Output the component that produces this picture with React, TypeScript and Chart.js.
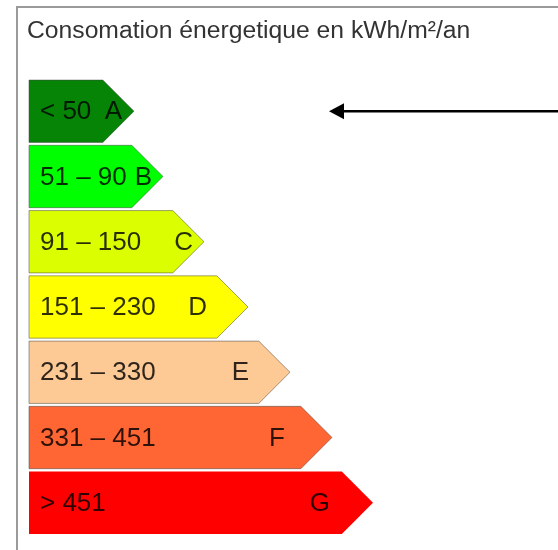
import React, { useEffect, useRef } from "react";
import { Chart, registerables } from "chart.js";

Chart.register(...registerables);

const classes = ["A", "B", "C", "D", "E", "F", "G"];
const ranges = ["< 50", "51 – 90", "91 – 150", "151 – 230", "231 – 330", "331 – 451", "> 451"];
const barLengths = [105, 134, 175, 219, 261, 303, 344];
const barColors = ["#068406", "#00ff00", "#dbff00", "#ffff00", "#fdc995", "#ff6633", "#ff0000"];
const currentClass = "A";
const title = "Consomation énergetique en kWh/m²/an";

const FONT = '"Liberation Sans", Arial, sans-serif';

const energyPlugin = {
  id: "energyLabel",
  beforeDraw(chart: any) {
    const ctx = chart.ctx;
    ctx.save();
    ctx.fillStyle = "#ffffff";
    ctx.fillRect(0, 0, chart.width, chart.height);
    ctx.strokeStyle = "#9a9a9a";
    ctx.lineWidth = 2;
    ctx.beginPath();
    ctx.moveTo(17, chart.height + 2);
    ctx.lineTo(17, 7);
    ctx.lineTo(chart.width + 2, 7);
    ctx.stroke();
    ctx.fillStyle = "#333333";
    ctx.font = `24.7px ${FONT}`;
    ctx.textBaseline = "alphabetic";
    ctx.textAlign = "left";
    ctx.fillText(title, 27, 37.5);
    ctx.restore();
  },
  afterDatasetsDraw(chart: any, _args: any, opts: any) {
    const ctx = chart.ctx;
    const meta = chart.getDatasetMeta(0);
    const letterInset: number[] = opts.letterInset;
    ctx.save();
    meta.data.forEach((el: any, i: number) => {
      const p = el.getProps(["x", "y", "base", "height"], true);
      const left = p.base;
      const right = p.x;
      const h = p.height;
      const top = p.y - h / 2;
      const bottom = p.y + h / 2;
      const d = h / 2;
      ctx.beginPath();
      ctx.moveTo(left, top);
      ctx.lineTo(right - d, top);
      ctx.lineTo(right, p.y);
      ctx.lineTo(right - d, bottom);
      ctx.lineTo(left, bottom);
      ctx.closePath();
      ctx.fillStyle = barColors[i];
      ctx.fill();
      if (i < barColors.length - 1) {
        ctx.strokeStyle = "rgba(70,70,70,0.5)";
        ctx.lineWidth = 1;
        ctx.stroke();
      }
      ctx.fillStyle = "rgba(0,0,0,0.82)";
      ctx.font = `26px ${FONT}`;
      ctx.textBaseline = "middle";
      ctx.textAlign = "left";
      ctx.fillText(ranges[i], left + 11, p.y + 1);
      ctx.textAlign = "right";
      ctx.fillText(classes[i], right - letterInset[i], p.y + 1);
    });
    // indicator arrow
    const idx = classes.indexOf(currentClass);
    const el = meta.data[idx];
    const y = el.y;
    const tipX = opts.arrowTipX;
    ctx.strokeStyle = "#000";
    ctx.lineWidth = 2.5;
    ctx.beginPath();
    ctx.moveTo(chart.width + 2, y);
    ctx.lineTo(tipX + 12, y);
    ctx.stroke();
    ctx.fillStyle = "#000";
    ctx.beginPath();
    ctx.moveTo(tipX, y);
    ctx.lineTo(tipX + 15, y - 8);
    ctx.lineTo(tipX + 15, y + 8);
    ctx.closePath();
    ctx.fill();
    ctx.restore();
  },
};

export default function App() {
  const ref = useRef<HTMLCanvasElement | null>(null);
  useEffect(() => {
    if (!ref.current) return;
    const chart = new Chart(ref.current, {
      type: "bar",
      data: {
        labels: classes,
        datasets: [
          {
            data: barLengths,
            backgroundColor: "rgba(0,0,0,0)",
            borderWidth: 0,
            barPercentage: 0.955,
            categoryPercentage: 1,
          },
        ],
      },
      options: {
        indexAxis: "y",
        animation: false,
        responsive: false,
        maintainAspectRatio: false,
        layout: { padding: { left: 29, top: 78.6, bottom: 14.6, right: 0 } },
        scales: {
          x: { display: false, min: 0, max: 529 },
          y: { display: false, offset: true },
        },
        plugins: {
          legend: { display: false },
          title: { display: false },
          tooltip: { enabled: false },
          energyLabel: { letterInset: [12, 11, 11, 41, 41, 47, 43], arrowTipX: 329 },
        } as any,
      },
      plugins: [energyPlugin],
    });
    return () => chart.destroy();
  }, []);
  return (
    <div style={{ position: "fixed", left: 0, top: 0, width: 558, height: 550, background: "#fff" }}>
      <canvas ref={ref} width={558} height={550} style={{ width: 558, height: 550, display: "block" }} />
    </div>
  );
}
